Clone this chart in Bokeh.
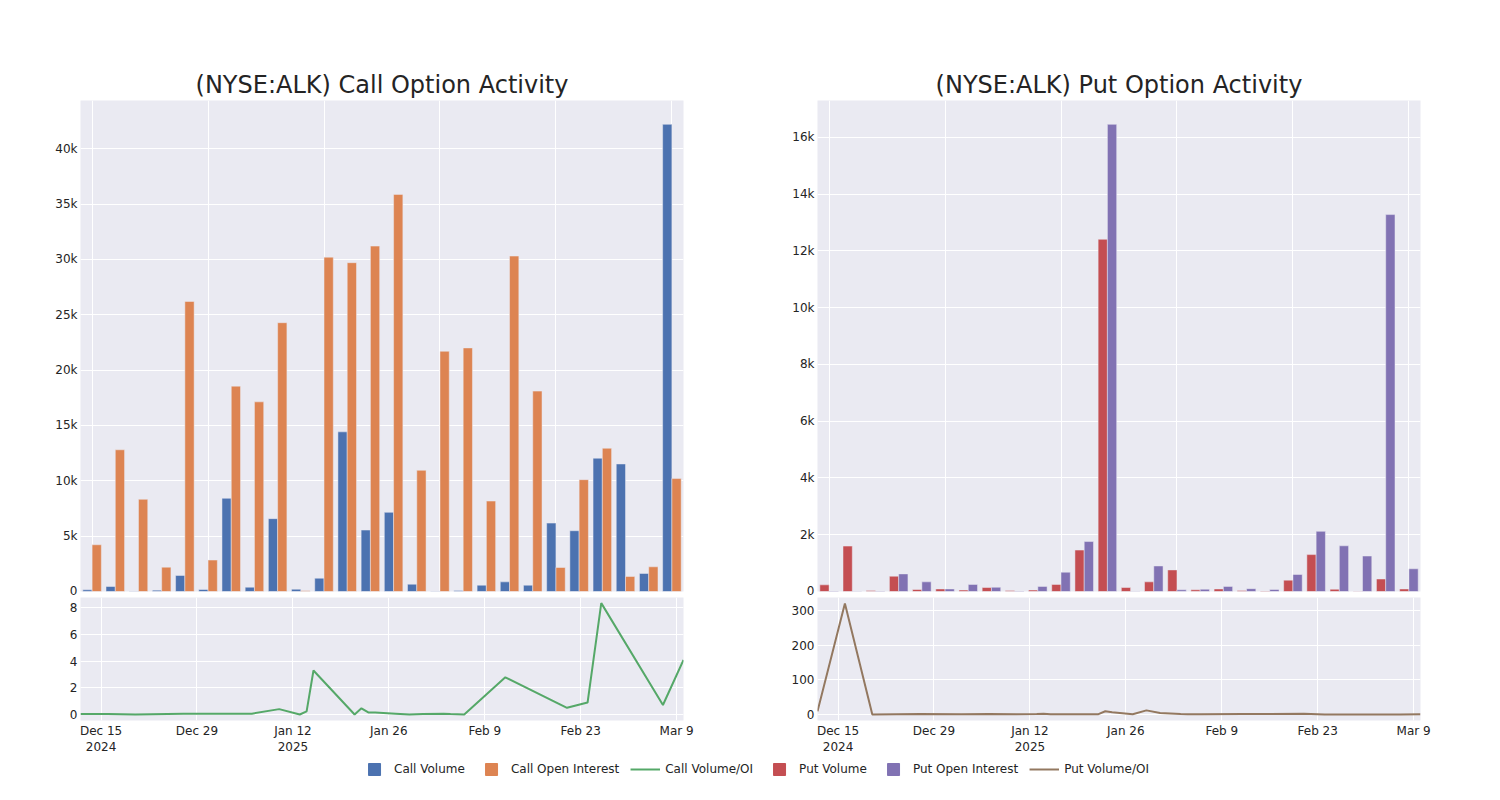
import pandas as pd
from bokeh.plotting import figure
from bokeh.layouts import column, row
from bokeh.models import (FixedTicker, NumeralTickFormatter, Range1d, Legend,
                          LegendItem, ColumnDataSource)
from bokeh.transform import dodge
from bokeh.embed import file_html
from bokeh.resources import INLINE

# ---------------- data ----------------
dates = ["2024-12-12", "2024-12-16", "2024-12-20", "2024-12-27", "2025-01-02",
         "2025-01-06", "2025-01-10", "2025-01-13", "2025-01-14", "2025-01-15",
         "2025-01-21", "2025-01-22", "2025-01-23", "2025-01-24", "2025-01-27",
         "2025-01-29", "2025-01-31", "2025-02-03", "2025-02-04", "2025-02-06",
         "2025-02-12", "2025-02-21", "2025-02-24", "2025-02-26", "2025-03-07",
         "2025-03-10"]

call_volume = [150, 450, 30, 120, 1450, 180, 8420, 390, 6580, 210, 1200, 14420,
               5550, 7150, 660, 30, 90, 570, 870, 570, 6180, 5490, 12040, 11520,
               1630, 42200]
call_oi = [4220, 12800, 8330, 2200, 26200, 2840, 18550, 17130, 24280, 60, 30200,
           29700, 31200, 35870, 10950, 21700, 22000, 8170, 30300, 18100, 2170,
           10100, 12940, 1360, 2230, 10200]
call_vol_oi = [0.04, 0.035, 0.004, 0.055, 0.055, 0.06, 0.4, 0.0, 0.23, 3.29, 0.0,
               0.46, 0.15, 0.15, 0.06, 0.0, 0.03, 0.05, 0.03, 0.0, 2.78, 0.5,
               0.89, 8.33, 0.71, 4.08]

put_volume = [235, 1600, 35, 540, 70, 90, 50, 140, 35, 50, 250, 1460, 12410, 140,
              340, 760, 60, 90, 35, 20, 400, 1300, 80, 10, 440, 90]
put_oi = [20, 5, 20, 620, 340, 90, 250, 150, 20, 180, 680, 1760, 16460, 10, 900,
          60, 80, 180, 100, 70, 600, 2120, 1610, 1250, 13280, 800]
put_vol_oi = [9, 320, 0, 0.9, 0.2, 1, 0.2, 0.9, 1.7, 0.3, 0.4, 0.8, 9, 6.5, 0.4,
              11.6, 4, 1, 0.5, 0.3, 1, 2, 0.05, 0.01, 0.03, 0.1]

date_tick_values = ["2024-12-15", "2024-12-29", "2025-01-12", "2025-01-26",
                    "2025-02-09", "2025-02-23", "2025-03-09"]
date_tick_labels = ["Dec 15\n2024", "Dec 29", "Jan 12\n2025", "Jan 26", "Feb 9",
                    "Feb 23", "Mar 9"]

call_y_ticks = [0, 5000, 10000, 15000, 20000, 25000, 30000, 35000, 40000]
put_y_ticks = [0, 2000, 4000, 6000, 8000, 10000, 12000, 14000, 16000]
call_ratio_ticks = [0, 2, 4, 6, 8]
put_ratio_ticks = [0, 100, 200, 300]

legend_labels = ["Call Volume", "Call Open Interest", "Call Volume/OI",
                 "Put Volume", "Put Open Interest", "Put Volume/OI"]

# ---------------- styling ----------------
FONT = "DejaVu Sans"
TXT = "#242424"
BG = "#EAEAF2"
C_BLUE, C_ORANGE, C_GREEN = "#4C72B0", "#DD8452", "#55A868"
C_RED, C_PURPLE, C_BROWN = "#C44E52", "#8172B3", "#937860"


def ms(d):
    return float(pd.Timestamp(d).value // 10**6)


date_ms = [ms(d) for d in dates]
tick_ms = [ms(d) for d in date_tick_values]
idx = list(range(len(dates)))


def style(p):
    p.background_fill_color = BG
    p.border_fill_color = "white"
    p.outline_line_color = None
    p.grid.grid_line_color = "white"
    p.grid.grid_line_width = 1
    for ax in p.axis:
        ax.axis_line_color = None
        ax.major_tick_line_color = None
        ax.minor_tick_line_color = None
        ax.major_tick_out = 0
        ax.major_tick_in = 0
        ax.minor_tick_out = 0
        ax.major_label_text_font = FONT
        ax.major_label_text_font_size = "12px"
        ax.major_label_text_color = TXT
        ax.major_label_standoff = 3


def bar_fig(title, vol, oi, c1, c2, ymax, yticks, ml, mr):
    src = ColumnDataSource(dict(idx=idx, vol=vol, oi=oi))
    p = figure(frame_width=603, frame_height=491, output_backend="svg",
               toolbar_location=None, x_range=Range1d(-0.5, len(idx) - 0.5),
               y_range=Range1d(0, ymax), min_border_left=ml, min_border_right=mr,
               min_border_top=100, min_border_bottom=6)
    p.vbar(x=dodge("idx", -0.2, range=p.x_range), top="vol", width=0.4,
           source=src, fill_color=c1, line_color=BG, line_width=0.5)
    p.vbar(x=dodge("idx", 0.2, range=p.x_range), top="oi", width=0.4,
           source=src, fill_color=c2, line_color=BG, line_width=0.5)
    style(p)
    p.xaxis.visible = False
    p.xgrid.ticker = FixedTicker(ticks=idx[::5])
    p.yaxis.ticker = FixedTicker(ticks=yticks)
    p.yaxis.formatter = NumeralTickFormatter(format="0a")
    p.title.text = title
    p.title.align = "center"
    p.title.text_font = FONT
    p.title.text_font_size = "24px"
    p.title.text_font_style = "normal"
    p.title.text_color = TXT
    p.title.standoff = 4
    return p


def line_fig(vals, color, ymin, ymax, yticks, ml, mr):
    src = ColumnDataSource(dict(x=date_ms, y=vals))
    p = figure(frame_width=603, frame_height=123, output_backend="svg",
               toolbar_location=None, x_axis_type="datetime",
               x_range=Range1d(date_ms[0], date_ms[-1]),
               y_range=Range1d(ymin, ymax), min_border_left=ml,
               min_border_right=mr, min_border_top=0, min_border_bottom=33)
    p.line("x", "y", source=src, line_color=color, line_width=2)
    style(p)
    p.xaxis.ticker = FixedTicker(ticks=tick_ms)
    p.xaxis.major_label_overrides = {t: l for t, l in zip(tick_ms, date_tick_labels)}
    p.yaxis.ticker = FixedTicker(ticks=yticks)
    return p


call_top = bar_fig("(NYSE:ALK) Call Option Activity", call_volume, call_oi,
                   C_BLUE, C_ORANGE, 44350, call_y_ticks, 80, 67)
call_bot = line_fig(call_vol_oi, C_GREEN, -0.45, 8.75, call_ratio_ticks, 80, 67)
put_top = bar_fig("(NYSE:ALK) Put Option Activity", put_volume, put_oi,
                  C_RED, C_PURPLE, 17300, put_y_ticks, 67, 80)
put_bot = line_fig(put_vol_oi, C_BROWN, -17.6, 337.6, put_ratio_ticks, 67, 80)

# ---------------- legend strip (proxy glyphs kept outside the visible range) ----
leg = figure(frame_width=1492, frame_height=24, output_backend="svg",
             toolbar_location=None, x_range=Range1d(0, 1), y_range=Range1d(0, 1),
             min_border=0, min_border_left=8)
leg.axis.visible = False
leg.grid.visible = False
leg.outline_line_color = None
leg.background_fill_color = "white"
leg.border_fill_color = "white"
px, py = [-5, -4], [-5, -4]
r1 = leg.scatter(px, py, marker="square", fill_color=C_BLUE, line_color=C_BLUE)
r2 = leg.scatter(px, py, marker="square", fill_color=C_ORANGE, line_color=C_ORANGE)
r3 = leg.line(px, py, line_color=C_GREEN, line_width=2)
r4 = leg.scatter(px, py, marker="square", fill_color=C_RED, line_color=C_RED)
r5 = leg.scatter(px, py, marker="square", fill_color=C_PURPLE, line_color=C_PURPLE)
r6 = leg.line(px, py, line_color=C_BROWN, line_width=2)
legend = Legend(items=[LegendItem(label=l, renderers=[r])
                       for l, r in zip(legend_labels, [r1, r2, r3, r4, r5, r6])],
                orientation="horizontal", location="center",
                glyph_width=30, glyph_height=30, label_standoff=5, spacing=11,
                padding=0, margin=0, border_line_color=None,
                background_fill_alpha=0, label_text_font=FONT,
                label_text_font_size="12px", label_text_color=TXT)
leg.add_layout(legend, "center")

layout = column(row(column(call_top, call_bot), column(put_top, put_bot)), leg)

with open("out.html", "w") as f:
    f.write(file_html(layout, INLINE))
